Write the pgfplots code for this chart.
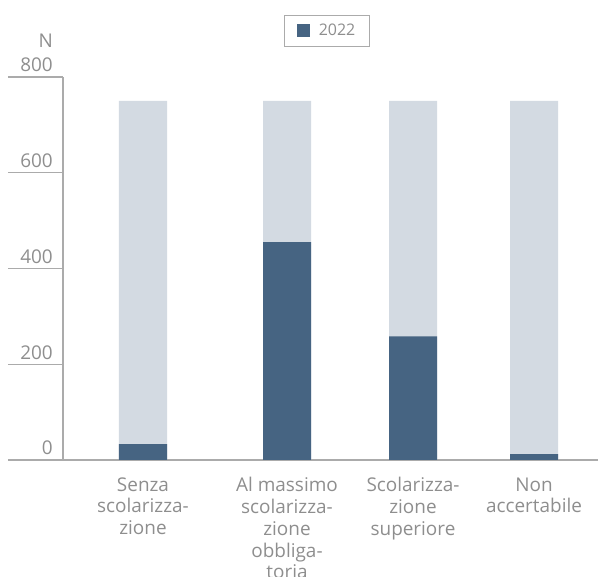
\documentclass[border=0pt]{standalone}
\usepackage{pgfplots}
\pgfplotsset{compat=1.18}
\usepackage{fontspec}
\setmainfont{Open Sans}
\definecolor{darkbar}{HTML}{466482}
\definecolor{lightbar}{HTML}{D3DAE2}
\definecolor{axgray}{HTML}{ABABAB}
\definecolor{txtgray}{HTML}{8E8E8E}
\begin{document}
\begin{tikzpicture}
\begin{axis}[
  scale only axis,
  width=535bp, height=383bp,
  xmin=63, xmax=598, ymin=0, ymax=800,
  axis x line=bottom, axis y line=left,
  axis line style={axgray, line width=1.2pt, -},
  x axis line style={-}, y axis line style={-},
  ytick={0,200,400,600,800},
  ytick style={axgray, line width=1.2pt},
  tick align=outside,
  major tick length=55bp,
  xtick={143,287,413,534},
  xtick style={draw=none},
  xticklabels={{Senza\\scolarizza-\\zione},{Al massimo\\scolarizza-\\zione\\obbliga-\\toria},{Scolarizza-\\zione\\superiore},{Non\\accertabile}},
  xticklabel style={align=center, font=\fontsize{19}{21.8}\selectfont, text=txtgray, anchor=north, yshift=41bp},
  yticklabel style={font=\fontsize{19}{22}\selectfont, text=txtgray, anchor=base east, inner sep=0pt, xshift=45bp, yshift=5bp},
  /pgf/number format/assume math mode=true,
  ybar, bar width=48, bar shift=0pt,
  legend style={at={(rel axis cs:0.4935,1.162)}, anchor=north, draw=axgray, line width=0.8pt,
    font=\fontsize{16}{18}\selectfont, text=txtgray, inner xsep=12bp, inner ysep=7bp},
  legend image code/.code={\fill[darkbar] (0bp,-6.5bp) rectangle (13bp,6.5bp); \path (20bp,0bp);},
  clip=false,
]
\addplot[fill=lightbar, draw=none, forget plot] coordinates {(143,750) (287,750) (413,750) (534,750)};
\addplot[fill=darkbar, draw=none] coordinates {(143,33) (287,455) (413,258) (534,12)};
\addlegendentry{2022}
\node[anchor=base east, inner sep=0pt, text=txtgray, font=\fontsize{19}{22}\selectfont] at ([xshift=-10bp,yshift=29bp]rel axis cs:0,1) {N};
\coordinate (TL) at (axis cs:0,960.8);
\coordinate (BR) at (axis cs:598,-244.4);
\end{axis}
\pgfresetboundingbox
\path (TL) rectangle (BR);
\end{tikzpicture}
\end{document}
